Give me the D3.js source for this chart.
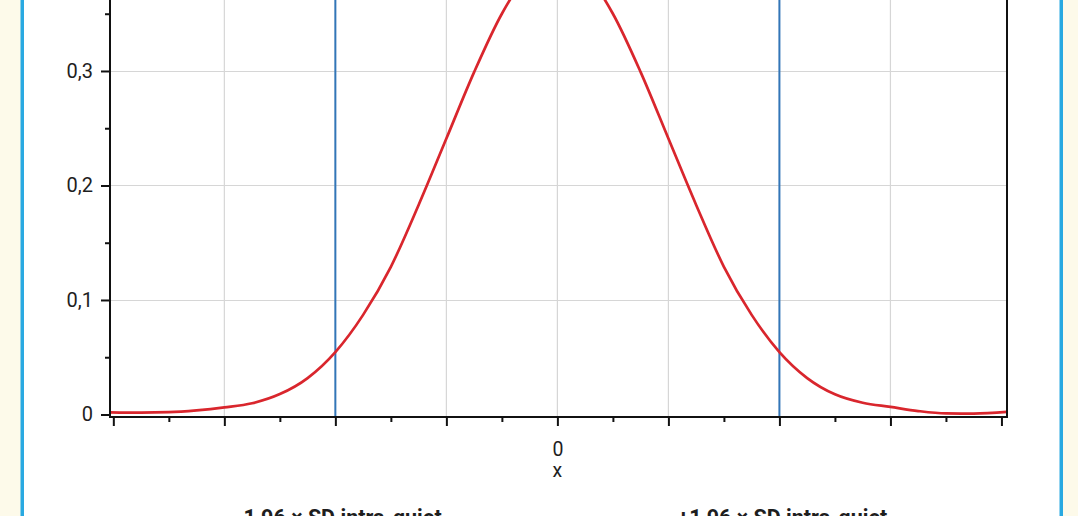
<!DOCTYPE html>
<html>
<head>
<meta charset="utf-8">
<script src="https://cdn.jsdelivr.net/npm/d3@7"></script>
<style>
  html, body { margin: 0; padding: 0; background: #fdfaea; }
  svg { display: block; }
  text { font-family: Roboto, "Liberation Sans", sans-serif; fill: #1e1e1e; }
</style>
</head>
<body>
<svg id="chart" width="1078" height="516"></svg>
<script>
// ---- data ----
const curveX = [-4.03, -3.75, -3.5, -3.25, -3.0, -2.75, -2.5, -2.25, -2.0, -1.75, -1.5, -1.25, -1.0, -0.75, -0.5, -0.25, 0.0,
                0.25, 0.5, 0.75, 1.0, 1.25, 1.5, 1.75, 2.0, 2.25, 2.5, 2.75, 3.0, 3.25, 3.5, 3.75, 4.05];
const curveY = [0.0018, 0.0016, 0.0020, 0.0036, 0.0062, 0.0098, 0.0178, 0.0318, 0.0545, 0.0870, 0.1290, 0.1830, 0.2410, 0.2990, 0.3500, 0.3860, 0.3990,
                0.3860, 0.3500, 0.2990, 0.2410, 0.1830, 0.1290, 0.0870, 0.0545, 0.0318, 0.0176, 0.0102, 0.0066, 0.0030, 0.0009, 0.0007, 0.0022];
const refLines = [-2, 2];
const refLabels = ["-1,96 × SD intra-quiet", "+1,96 × SD intra-quiet"];
const xMajorTicks = [-4, -3, -2, -1, 0, 1, 2, 3, 4];
const xMinorTicks = [-3.5, -2.5, -1.5, -0.5, 0.5, 1.5, 2.5, 3.5];
const xTickLabels = {"0": "0"};
const yMajorTicks = [0, 0.1, 0.2, 0.3, 0.4];
const yMinorTicks = [0.05, 0.15, 0.25, 0.35];
const yTickLabels = ["0", "0,1", "0,2", "0,3", "0,4"];
const xTitle = "x";

// ---- layout ----
const svg = d3.select("#chart");
const W = 1078, H = 516;
const plot = {left: 110, right: 1007, bottom: 417};

const x = d3.scaleLinear().domain([-4.03, 4.05]).range([plot.left, plot.right]);
const y = d3.scaleLinear().domain([-0.0022, 0.4]).range([plot.bottom, plot.bottom - 0.4022 * 1145]);

// page frame
svg.append("rect").attr("x", 0).attr("y", 0).attr("width", W).attr("height", H).attr("fill", "#fdfaea");
svg.append("rect").attr("x", 22.25).attr("y", -100).attr("width", 1039).attr("height", 800)
  .attr("fill", "#ffffff").attr("stroke", "#29a9e1").attr("stroke-width", 3.5);

const plotTop = y(0.43);

// grid
const g = svg.append("g");
g.selectAll(".hgrid").data(yMajorTicks.filter(d => d > 0)).enter().append("line")
  .attr("x1", plot.left).attr("x2", plot.right)
  .attr("y1", d => Math.round(y(d)) + 0.5).attr("y2", d => Math.round(y(d)) + 0.5)
  .attr("stroke", "#d6d6d6").attr("stroke-width", 1.2);
g.selectAll(".vgrid").data(xMajorTicks.filter(d => Math.abs(d) < 4)).enter().append("line")
  .attr("x1", d => x(d)).attr("x2", d => x(d))
  .attr("y1", plotTop).attr("y2", plot.bottom)
  .attr("stroke", "#d6d6d6").attr("stroke-width", 1.2);

// reference lines
g.selectAll(".ref").data(refLines).enter().append("line")
  .attr("x1", d => x(d)).attr("x2", d => x(d))
  .attr("y1", plotTop).attr("y2", plot.bottom)
  .attr("stroke", "#3276b8").attr("stroke-width", 2);

// curve
const pts = curveX.map((v, i) => [v, curveY[i]]);
const line = d3.line().x(d => x(d[0])).y(d => y(d[1])).curve(d3.curveMonotoneX);
g.append("path").datum(pts).attr("d", line)
  .attr("fill", "none").attr("stroke", "#d9262d").attr("stroke-width", 2.7)
  .attr("stroke-linejoin", "round");

// frame
svg.append("rect").attr("x", plot.left).attr("y", plotTop)
  .attr("width", plot.right - plot.left).attr("height", plot.bottom - plotTop)
  .attr("fill", "none").attr("stroke", "#111").attr("stroke-width", 2);

// x axis
const xAxisG = svg.append("g").attr("transform", `translate(0,${plot.bottom})`);
xAxisG.call(d3.axisBottom(x).tickValues(xMajorTicks).tickSize(9).tickPadding(16)
  .tickFormat(d => xTickLabels[String(d)] || ""));
xAxisG.select(".domain").remove();
xAxisG.selectAll(".tick line").attr("stroke", "#111").attr("stroke-width", 2);
xAxisG.selectAll(".tick text").style("font-size", "19.5px").attr("fill", "#1e1e1e")
  .style("font-family", "Roboto, sans-serif");
const xMinorG = svg.append("g").attr("transform", `translate(0,${plot.bottom})`);
xMinorG.call(d3.axisBottom(x).tickValues(xMinorTicks).tickSize(5).tickFormat(""));
xMinorG.select(".domain").remove();
xMinorG.selectAll(".tick line").attr("stroke", "#111").attr("stroke-width", 2);

// y axis
const yAxisG = svg.append("g").attr("transform", `translate(${plot.left},0)`);
yAxisG.call(d3.axisLeft(y).tickValues(yMajorTicks).tickSize(9).tickPadding(8)
  .tickFormat((d, i) => yTickLabels[i]));
yAxisG.select(".domain").remove();
yAxisG.selectAll(".tick line").attr("stroke", "#111").attr("stroke-width", 2);
yAxisG.selectAll(".tick text").style("font-size", "20px").attr("fill", "#1e1e1e")
  .style("font-family", "Roboto, sans-serif");
const yMinorG = svg.append("g").attr("transform", `translate(${plot.left},0)`);
yMinorG.call(d3.axisLeft(y).tickValues(yMinorTicks).tickSize(5).tickFormat(""));
yMinorG.select(".domain").remove();
yMinorG.selectAll(".tick line").attr("stroke", "#111").attr("stroke-width", 2);

// x title
svg.append("text").attr("x", x(0)).attr("y", 477).attr("text-anchor", "middle")
  .style("font-size", "19.5px").text(xTitle);

// reference labels
svg.selectAll(".reflab").data(refLines).enter().append("text")
  .attr("x", d => x(d) + 3).attr("y", 524.5).attr("text-anchor", "middle")
  .style("font-size", "21.5px").style("font-weight", "bold")
  .text((d, i) => refLabels[i]);
</script>
</body>
</html>
